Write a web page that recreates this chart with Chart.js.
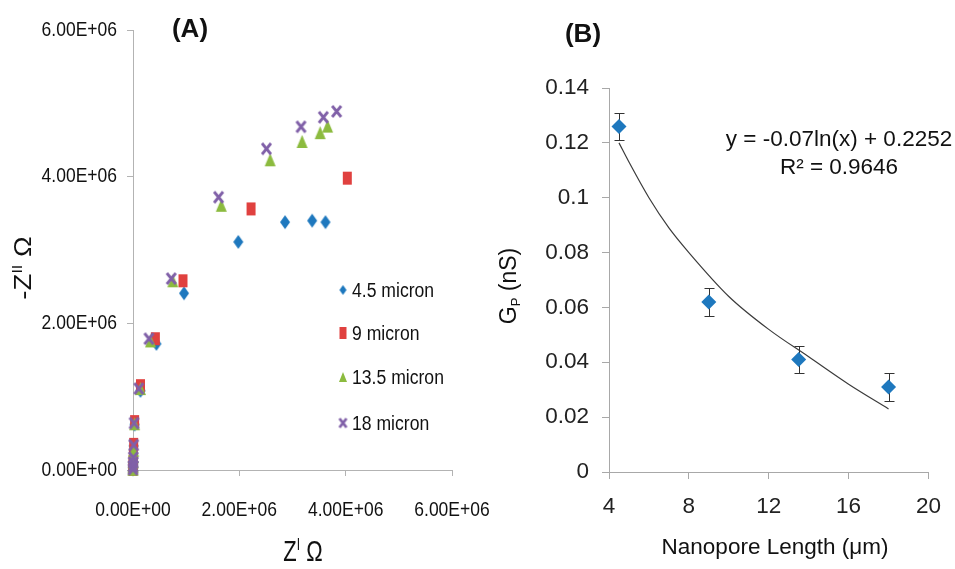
<!DOCTYPE html>
<html>
<head>
<meta charset="utf-8">
<script src="https://cdn.jsdelivr.net/npm/chart.js@4.4.0/dist/chart.umd.min.js"></script>
<style>
  html, body { margin: 0; padding: 0; background: #fff; }
  #wrap { position: relative; width: 955px; height: 569px; overflow: hidden; }
  canvas { position: absolute; top: 0; }
  #chartA { left: 0; }
  #chartB { left: 470px; }
</style>
</head>
<body>
<div id="wrap">
  <canvas id="chartA" width="520" height="569"></canvas>
  <canvas id="chartB" width="485" height="569"></canvas>
</div>
<script>
// ---- panel A : Nyquist plot (Z' vs -Z'') ----
var seriesNames = ['4.5 micron', '9 micron', '13.5 micron', '18 micron'];

var blueX = [0, 0.002e6, 0.004e6, 0.007e6, 0.012e6, 0.03e6, 0.14e6, 0.44e6, 0.96e6, 1.98e6, 2.86e6, 3.37e6, 3.62e6];
var blueY = [0.01e6, 0.05e6, 0.10e6, 0.17e6, 0.33e6, 0.62e6, 1.08e6, 1.72e6, 2.41e6, 3.11e6, 3.38e6, 3.40e6, 3.38e6];

var redX = [0, 0.002e6, 0.004e6, 0.007e6, 0.012e6, 0.03e6, 0.14e6, 0.42e6, 0.94e6, 2.22e6, 4.03e6];
var redY = [0.01e6, 0.06e6, 0.12e6, 0.19e6, 0.35e6, 0.66e6, 1.15e6, 1.79e6, 2.58e6, 3.56e6, 3.98e6];

var greenX = [0, 0.002e6, 0.004e6, 0.007e6, 0.012e6, 0.03e6, 0.14e6, 0.33e6, 0.75e6, 1.66e6, 2.58e6, 3.18e6, 3.52e6, 3.66e6];
var greenY = [0.01e6, 0.05e6, 0.11e6, 0.18e6, 0.27e6, 0.63e6, 1.11e6, 1.76e6, 2.58e6, 3.61e6, 4.23e6, 4.48e6, 4.60e6, 4.69e6];

var purpleX = [0, 0.002e6, 0.004e6, 0.007e6, 0.012e6, 0.02e6, 0.11e6, 0.30e6, 0.72e6, 1.61e6, 2.51e6, 3.16e6, 3.58e6, 3.83e6];
var purpleY = [0.01e6, 0.05e6, 0.10e6, 0.17e6, 0.34e6, 0.64e6, 1.11e6, 1.79e6, 2.61e6, 3.72e6, 4.38e6, 4.68e6, 4.81e6, 4.89e6];

var aTickLabels = ['0.00E+00', '2.00E+06', '4.00E+06', '6.00E+06'];

// ---- panel B : conductance vs nanopore length ----
var lengths = [4.5, 9, 13.5, 18];
var conductance = [0.126, 0.062, 0.041, 0.031];
var errBars = [0.005, 0.005, 0.005, 0.005];

// trend line
var trendX = [4.5, 5, 6, 7, 8, 10, 12, 14, 16, 18];
var trendY = [0.120, 0.113, 0.100, 0.089, 0.080, 0.064, 0.052, 0.042, 0.032, 0.023];

var bXTickLabels = ['4', '8', '12', '16', '20'];
var bYTickLabels = ['0', '0.02', '0.04', '0.06', '0.08', '0.1', '0.12', '0.14'];

var arial = '"Liberation Sans", Arial, sans-serif';

var cBlue = '#1e78be', cRed = '#e0413f', cGreen = '#8cbb3f', cPurple = '#8060a8';

// small canvases used as marker images (the left panel is stretched, so markers are tall)
function makeMarker(shape, color, w, h) {
    var c = document.createElement('canvas');
    c.width = w + 2;
    c.height = h + 2;
    var g = c.getContext('2d');
    g.fillStyle = color;
    g.strokeStyle = color;
    var cx = c.width / 2, cy = c.height / 2;
    if (shape === 'diamond') {
        g.beginPath();
        g.moveTo(cx, 1); g.lineTo(cx + w / 2, cy); g.lineTo(cx, h + 1); g.lineTo(cx - w / 2, cy);
        g.closePath(); g.fill();
    } else if (shape === 'square') {
        g.fillRect(1, 1, w, h);
    } else if (shape === 'triangle') {
        g.beginPath();
        g.moveTo(cx, 1); g.lineTo(w + 1, h + 1); g.lineTo(1, h + 1);
        g.closePath(); g.fill();
    } else {
        g.lineWidth = 2.8;
        g.beginPath();
        g.moveTo(2, 2); g.lineTo(w, h);
        g.moveTo(w, 2); g.lineTo(2, h);
        g.stroke();
    }
    return c;
}

var markers = [
    makeMarker('diamond', cBlue, 10, 14),
    makeMarker('square', cRed, 9, 13),
    makeMarker('triangle', cGreen, 11, 13),
    makeMarker('cross', cPurple, 11, 13)
];
var legendMarkers = [
    makeMarker('diamond', cBlue, 7, 10),
    makeMarker('square', cRed, 7, 12),
    makeMarker('triangle', cGreen, 8, 10),
    makeMarker('cross', cPurple, 9, 11)
];

function toPoints(xs, ys) {
    var pts = [];
    for (var i = 0; i < xs.length; i++) {
        pts.push({ x: xs[i], y: ys[i] });
    }
    return pts;
}

// text with a stretch, centred vertically on y
function drawText(ctx, text, x, y, size, align, ky) {
    ctx.save();
    ctx.translate(x, y);
    ctx.scale(1, ky);
    ctx.font = size + 'px ' + arial;
    ctx.textAlign = align;
    ctx.textBaseline = 'middle';
    ctx.fillText(text, 0, 0);
    ctx.restore();
}

// string made of parts [text, size, raise] centred on x, y is the baseline
function drawParts(ctx, parts, x, y, angle, kx, ky) {
    ctx.save();
    ctx.translate(x, y);
    ctx.rotate(angle);
    ctx.scale(kx, ky);
    ctx.textAlign = 'left';
    ctx.textBaseline = 'alphabetic';
    var total = 0;
    parts.forEach(function (p) {
        ctx.font = p[1] + 'px ' + arial;
        total += ctx.measureText(p[0]).width;
    });
    var cx = -total / 2;
    parts.forEach(function (p) {
        ctx.font = p[1] + 'px ' + arial;
        ctx.fillText(p[0], cx, p[2]);
        cx += ctx.measureText(p[0]).width;
    });
    ctx.restore();
}

var textA = {
    id: 'textA',
    afterDraw: function (chart) {
        var ctx = chart.ctx;
        var xs = chart.scales.x, ys = chart.scales.y;
        ctx.save();
        ctx.fillStyle = '#111';

        // tick labels
        ys.ticks.forEach(function (t, i) {
            drawText(ctx, aTickLabels[i], 117, ys.getPixelForValue(t.value), 17.5, 'right', 1.15);
        });
        xs.ticks.forEach(function (t, i) {
            drawText(ctx, aTickLabels[i], xs.getPixelForValue(t.value), 510, 17.5, 'center', 1.15);
        });

        ctx.font = 'bold 26px ' + arial;
        ctx.textAlign = 'center';
        ctx.textBaseline = 'middle';
        ctx.fillText('(A)', 190, 30);

        // legend
        var rows = [290, 333, 377, 423];
        for (var i = 0; i < seriesNames.length; i++) {
            var m = legendMarkers[i];
            ctx.drawImage(m, 343 - m.width / 2, rows[i] - m.height / 2);
            drawText(ctx, seriesNames[i], 352, rows[i] + 1, 17.6, 'left', 1.2);
        }

        // axis titles
        drawParts(ctx, [['Z', 22, 0], ['I', 12, -8], [' \u03A9', 22, 0]], 303, 561, 0, 1, 1.35);
        drawParts(ctx, [['-Z', 24, 0], ['II', 14, -9], [' \u03A9', 24, 0]], 31, 268, -Math.PI / 2, 1.15, 1);
        ctx.restore();
    }
};

var dsA = [];
var xsA = [blueX, redX, greenX, purpleX];
var ysA = [blueY, redY, greenY, purpleY];
for (var s = 0; s < 4; s++) {
    dsA.push({
        label: seriesNames[s],
        data: toPoints(xsA[s], ysA[s]),
        pointStyle: markers[s],
        pointRadius: 5,
        pointHoverRadius: 5,
        order: 3 - s,
        clip: false
    });
}

new Chart(document.getElementById('chartA'), {
    type: 'scatter',
    data: { datasets: dsA },
    options: {
        responsive: false,
        animation: false,
        layout: { padding: { left: 0, top: 30, right: 68, bottom: 0 } },
        plugins: { legend: { display: false }, tooltip: { enabled: false } },
        scales: {
            x: {
                type: 'linear', min: 0, max: 6e6,
                afterFit: function (s) { s.height = 99; },
                ticks: { stepSize: 2e6, display: false },
                grid: { drawOnChartArea: false, tickLength: 6, color: '#b3b3b3' },
                border: { color: '#b3b3b3' }
            },
            y: {
                type: 'linear', min: 0, max: 6e6,
                afterFit: function (s) { s.width = 133; },
                ticks: { stepSize: 2e6, display: false },
                grid: { drawOnChartArea: false, tickLength: 6, color: '#b3b3b3' },
                border: { color: '#b3b3b3' }
            }
        }
    },
    plugins: [textA]
});

// ---- panel B ----
var textB = {
    id: 'textB',
    beforeDatasetsDraw: function (chart) {
        // error bars, under the markers
        var ctx = chart.ctx;
        var xs = chart.scales.x, ys = chart.scales.y;
        ctx.save();
        ctx.strokeStyle = '#333';
        ctx.lineWidth = 1;
        for (var i = 0; i < lengths.length; i++) {
            var px = Math.round(xs.getPixelForValue(lengths[i])) + 0.5;
            var top = Math.round(ys.getPixelForValue(conductance[i] + errBars[i])) + 0.5;
            var bot = Math.round(ys.getPixelForValue(conductance[i] - errBars[i])) + 0.5;
            ctx.beginPath();
            ctx.moveTo(px, top); ctx.lineTo(px, bot);
            ctx.moveTo(px - 5, top); ctx.lineTo(px + 5, top);
            ctx.moveTo(px - 5, bot); ctx.lineTo(px + 5, bot);
            ctx.stroke();
        }
        ctx.restore();
    },
    afterDraw: function (chart) {
        var ctx = chart.ctx;
        ctx.save();
        ctx.fillStyle = '#111';
        ctx.font = 'bold 26px ' + arial;
        ctx.textAlign = 'center';
        ctx.textBaseline = 'middle';
        ctx.fillText('(B)', 113, 35);

        ctx.font = '22.5px ' + arial;
        ctx.fillText('y = -0.07ln(x) + 0.2252', 369, 140);
        ctx.fillText('R\u00B2 = 0.9646', 369, 168);

        drawParts(ctx, [['Nanopore Length (\u03BCm)', 22.5, 0]], 305, 554, 0, 1, 1);
        drawParts(ctx, [['G', 23, 0], ['P', 13, 4], [' (nS)', 23, 0]], 46, 286, -Math.PI / 2, 1, 1);
        ctx.restore();
    }
};

new Chart(document.getElementById('chartB'), {
    type: 'scatter',
    data: {
        datasets: [
            {
                label: 'Gp',
                data: toPoints(lengths, conductance),
                pointStyle: 'rectRot',
                pointRadius: 7.5,
                pointHoverRadius: 7.5,
                backgroundColor: cBlue,
                borderWidth: 0,
                order: 0,
                clip: false
            },
            {
                label: 'trend',
                data: toPoints(trendX, trendY),
                showLine: true,
                pointRadius: 0,
                borderColor: '#3c3c3c',
                borderWidth: 1.2,
                cubicInterpolationMode: 'monotone',
                order: 1
            }
        ]
    },
    options: {
        responsive: false,
        animation: false,
        layout: { padding: { left: 0, top: 88, right: 15, bottom: 0 } },
        plugins: { legend: { display: false }, tooltip: { enabled: false } },
        scales: {
            x: {
                type: 'linear', min: 4, max: 20,
                afterFit: function (s) { s.height = 97; },
                ticks: {
                    stepSize: 4, padding: 14, color: '#222', maxRotation: 0,
                    font: { family: arial, size: 22.5 },
                    callback: function (v, i) { return bXTickLabels[i]; }
                },
                grid: { drawOnChartArea: false, tickLength: 7, color: '#a8a8a8' },
                border: { color: '#a8a8a8' }
            },
            y: {
                type: 'linear', min: 0, max: 0.14,
                afterFit: function (s) { s.width = 139; },
                ticks: {
                    stepSize: 0.02, padding: 13, color: '#222',
                    font: { family: arial, size: 22.5 },
                    callback: function (v, i) { return bYTickLabels[i]; }
                },
                grid: { drawOnChartArea: false, tickLength: 7, color: '#a8a8a8' },
                border: { color: '#a8a8a8' }
            }
        }
    },
    plugins: [textB]
});
</script>
</body>
</html>
